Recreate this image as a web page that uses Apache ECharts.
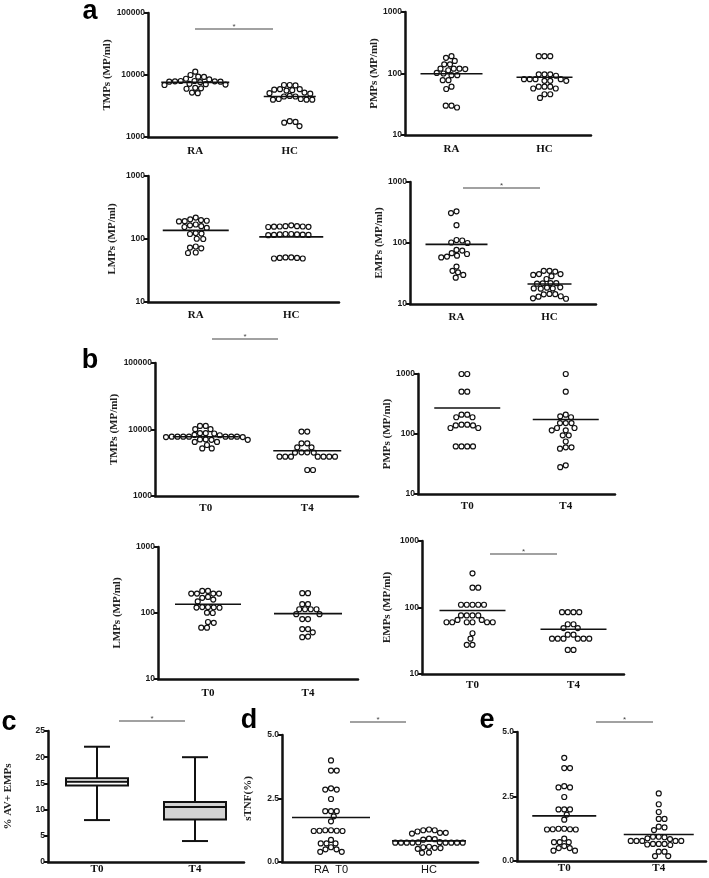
<!DOCTYPE html>
<html>
<head>
<meta charset="utf-8">
<script src="https://cdn.jsdelivr.net/npm/echarts@6/dist/echarts.min.js"></script>
<style>
  html, body { margin: 0; background: #fff; }
  #chart { width: 709px; height: 878px; }
</style>
</head>
<body>
<div id="chart"></div>
<script>
  // ---- categories ----
  var catsRA = ['RA', 'HC'];
  var catsT = ['T0', 'T4'];
  var catsD = ['RA  T0', 'HC'];

  // ---- panel a (RA vs HC), MP/ml ----
  var tmpRA = [11300, 10000, 9400, 9300, 8700, 8500, 8000, 8000, 7900, 7900, 7800, 7800, 7700, 7200, 7100, 7000, 6900, 6200, 6100, 6000, 5200, 5100];
  var tmpHC = [6900, 6900, 6800, 5900, 5900, 5800, 5700, 5600, 5200, 5100, 5000, 4600, 4500, 4500, 4100, 4100, 4000, 4000, 4000, 1800, 1750, 1700, 1500];
  var pmpRA = [191, 180, 160, 141, 141, 120, 120, 120, 118, 113, 102, 100, 94, 94, 78, 78, 61, 56, 30, 30, 28];
  var pmpHC = [191, 191, 191, 97, 97, 97, 92, 81, 81, 81, 81, 76, 76, 76, 61, 61, 61, 57, 57, 46, 46, 40];
  var lmpRA = [219, 205, 200, 195, 192, 190, 170, 165, 160, 155, 150, 124, 122, 120, 101, 100, 76, 73, 71, 61, 60];
  var lmpHC = [165, 160, 158, 157, 156, 155, 158, 160, 120, 118, 117, 116, 115, 116, 118, 120, 51, 50, 49, 49, 50, 51];
  var empRA = [330, 310, 196, 112, 110, 102, 100, 77, 75, 68, 66, 62, 60, 58, 41, 35, 33, 30, 27];
  var empHC = [35, 34, 35, 31, 30, 31, 28.6, 25.7, 22, 21.8, 21.5, 22, 18.8, 18.5, 18, 18, 17.8, 14.6, 14.5, 14.4, 13.4, 13.2, 12.4, 12.2];
  var medTmpA = [7600, 4500];
  var medPmpA = [99, 87];
  var medLmpA = [137, 108];
  var medEmpA = [95, 21.3];

  // ---- panel b (T0 vs T4), MP/ml ----
  var tmpT0 = [11300, 11300, 10100, 10100, 8800, 8800, 8700, 8300, 8200, 7800, 7800, 7800, 7800, 7800, 7800, 7800, 7700, 7700, 7100, 7100, 7000, 7000, 6500, 6500, 5850, 5200, 5200];
  var tmpT4 = [9300, 9300, 6200, 6200, 5400, 5400, 4540, 4540, 4500, 4500, 3900, 3900, 3900, 3900, 3900, 3900, 3900, 2460, 2460];
  var pmpT0 = [1000, 1000, 507, 507, 210, 210, 190, 190, 143, 143, 139, 139, 126, 126, 62, 62, 62, 62];
  var pmpT4 = [1000, 507, 210, 197, 190, 152, 152, 152, 126, 126, 115, 115, 95, 95, 75, 60, 60, 57, 30, 28];
  var lmpT0 = [216, 216, 197, 197, 197, 197, 175, 170, 160, 150, 123, 123, 122, 121, 120, 101, 100, 73, 71, 60, 60];
  var lmpT4 = [200, 200, 136, 136, 114, 114, 114, 114, 96, 96, 81, 81, 57, 57, 51, 44, 43];
  var empT0 = [327, 199, 199, 110, 110, 110, 110, 110, 76, 76, 76, 76, 65, 65, 60, 60, 60, 60, 60, 60, 41, 34, 27.5, 27.5];
  var empT4 = [85, 85, 85, 85, 56, 56, 49, 49, 39, 39, 34, 34, 34, 34, 34, 34, 23, 23];
  var medTmpB = [7800, 4800];
  var medPmpB = [272, 174];
  var medLmpB = [136, 98];
  var medEmpB = [90, 47];

  // ---- panel c: % AV+ EMPs box plots [min, q1, median, q3, max] ----
  var avT0 = [8, 14.6, 15.3, 16.0, 22];
  var avT4 = [4, 8.1, 10.5, 11.45, 20];

  // ---- panels d, e: sTNF (%) ----
  var stnfT0 = [4.0, 3.6, 3.6, 2.9, 2.85, 2.85, 2.48, 2.0, 2.0, 2.0, 1.8, 1.6, 1.25, 1.23, 1.22, 1.22, 1.23, 1.25, 0.87, 0.73, 0.73, 0.73, 0.58, 0.5, 0.5, 0.4, 0.4];
  var stnfHC = [1.28, 1.25, 1.25, 1.2, 1.15, 1.15, 1.12, 0.92, 0.9, 0.88, 0.78, 0.77, 0.76, 0.76, 0.76, 0.76, 0.76, 0.76, 0.76, 0.76, 0.6, 0.58, 0.56, 0.55, 0.52, 0.37, 0.36];
  var stnfT4 = [2.62, 2.2, 1.9, 1.63, 1.63, 1.33, 1.3, 1.2, 0.94, 0.94, 0.92, 0.88, 0.85, 0.78, 0.78, 0.78, 0.78, 0.78, 0.66, 0.66, 0.66, 0.64, 0.62, 0.36, 0.36, 0.19, 0.19];
  var medStnfD = [1.75, 0.83];
  var medStnfE = [1.75, 1.03];

  var SERIF = '"Liberation Serif", "Times New Roman", serif';
  var SANS = '"Liberation Sans", Arial, sans-serif';
  var INK = '#111';

  var panels = [
    { rect: [148, 13, 189, 124], log: true, min: 1000, max: 100000, cats: catsRA, title: 'TMPs (MP/ml)', gap: 30, lm: 9, groups: [tmpRA, tmpHC], med: medTmpA, hw: [34, 26] },
    { rect: [405, 12, 186, 123], log: true, min: 10, max: 1000, cats: catsRA, title: 'PMPs (MP/ml)', gap: 22, lm: 9, groups: [pmpRA, pmpHC], med: medPmpA, hw: [31, 28] },
    { rect: [148, 176, 191, 126], log: true, min: 10, max: 1000, cats: catsRA, title: 'LMPs (MP/ml)', gap: 30, lm: 8, groups: [lmpRA, lmpHC], med: medLmpA, hw: [33, 32] },
    { rect: [410, 182, 186, 122], log: true, min: 10, max: 1000, cats: catsRA, title: 'EMPs (MP/ml)', gap: 22, lm: 8, groups: [empRA, empHC], med: medEmpA, hw: [31, 22] },
    { rect: [155, 363, 203, 133], log: true, min: 1000, max: 100000, cats: catsT, title: 'TMPs (MP/ml)', gap: 32, lm: 7, groups: [tmpT0, tmpT4], med: medTmpB, hw: [33, 34] },
    { rect: [418, 374, 197, 120], log: true, min: 10, max: 1000, cats: catsT, title: 'PMPs (MP/ml)', gap: 23, lm: 7, groups: [pmpT0, pmpT4], med: medPmpB, hw: [33, 33] },
    { rect: [158, 547, 200, 132], log: true, min: 10, max: 1000, cats: catsT, title: 'LMPs (MP/ml)', gap: 35, lm: 9, groups: [lmpT0, lmpT4], med: medLmpB, hw: [33, 34] },
    { rect: [422, 541, 202, 133], log: true, min: 10, max: 1000, cats: catsT, title: 'EMPs (MP/ml)', gap: 29, lm: 6, groups: [empT0, empT4], med: medEmpB, hw: [33, 33] },
    { rect: [48, 731, 196, 131], min: 0, max: 25, interval: 5, cats: catsT, title: '% AV+ EMPs', gap: 34, lm: 2, boxes: [avT0, avT4] },
    { rect: [282, 735, 196, 127], min: 0, max: 5, interval: 2.5, dec: 1, cats: catsD, catFont: SANS, catWeight: 'normal', title: 'sTNF(%)', gap: 28, lm: 2, groups: [stnfT0, stnfHC], med: medStnfD, hw: [39, 37] },
    { rect: [517, 732, 189, 129], min: 0, max: 5, interval: 2.5, dec: 1, cats: catsT, title: '', gap: 28, lm: 2, groups: [stnfT0, stnfT4], med: medStnfE, hw: [32, 35] }
  ];

  var boxFill = ['#ffffff', '#d3d3d3'];

  function medianLine(params, api) {
    var p = api.coord([api.value(0), api.value(1)]);
    var hw = api.value(2);
    return { type: 'line', shape: { x1: p[0] - hw, y1: p[1], x2: p[0] + hw, y2: p[1] },
      style: { stroke: INK, lineWidth: 1.6 } };
  }

  function boxShape(params, api) {
    var c = api.value(0);
    var pMin = api.coord([c, api.value(1)]), pQ1 = api.coord([c, api.value(2)]);
    var pMed = api.coord([c, api.value(3)]), pQ3 = api.coord([c, api.value(4)]);
    var pMax = api.coord([c, api.value(5)]);
    var x = pMin[0], bw = 31, cw = 13;
    var ls = { stroke: INK, lineWidth: 2 };
    return { type: 'group', children: [
      { type: 'line', shape: { x1: x, y1: pMax[1], x2: x, y2: pQ3[1] }, style: ls },
      { type: 'line', shape: { x1: x, y1: pQ1[1], x2: x, y2: pMin[1] }, style: ls },
      { type: 'line', shape: { x1: x - cw, y1: pMax[1], x2: x + cw, y2: pMax[1] }, style: ls },
      { type: 'line', shape: { x1: x - cw, y1: pMin[1], x2: x + cw, y2: pMin[1] }, style: ls },
      { type: 'rect', shape: { x: x - bw, y: pQ3[1], width: 2 * bw, height: pQ1[1] - pQ3[1] },
        style: { fill: boxFill[c], stroke: INK, lineWidth: 2 } },
      { type: 'line', shape: { x1: x - bw, y1: pMed[1], x2: x + bw, y2: pMed[1] }, style: ls }
    ] };
  }

  var grids = [], xAxes = [], yAxes = [], series = [], dotSeries = [];
  panels.forEach(function (p, i) {
    grids.push({ left: p.rect[0], top: p.rect[1], width: p.rect[2], height: p.rect[3] });
    xAxes.push({
      gridIndex: i, type: 'category', data: p.cats,
      axisLine: { onZero: false, lineStyle: { color: INK, width: 2.5 } },
      axisTick: { show: false },
      axisLabel: { color: INK, fontFamily: p.catFont || SERIF, fontWeight: p.catWeight || 'bold', fontSize: 11, margin: p.lm }
    });
    yAxes.push({
      gridIndex: i, type: p.log ? 'log' : 'value', logBase: 10,
      min: p.min, max: p.max, interval: p.interval,
      name: p.title, nameLocation: 'middle', nameGap: p.gap, nameRotate: 90,
      nameTextStyle: { color: '#222', fontFamily: SERIF, fontWeight: 'bold', fontSize: 11 },
      axisLine: { show: true, onZero: false, lineStyle: { color: INK, width: 2.5 } },
      axisTick: { show: true, length: 4, lineStyle: { color: INK, width: 2 } },
      minorTick: { show: false },
      splitLine: { show: false },
      axisLabel: {
        color: '#1a1a1a', fontFamily: SANS, fontWeight: 'bold', fontSize: 8.5, margin: 3,
        formatter: p.dec ? function (v) { return v.toFixed(p.dec); } : function (v) { return String(Math.round(v)); }
      }
    });
    if (p.groups) {
      p.groups.forEach(function (g, j) {
        var s = {
          id: 'dots' + i + '_' + j, type: 'scatter', xAxisIndex: i, yAxisIndex: i,
          data: g.map(function (v) { return [j, v]; }),
          symbol: 'circle', symbolSize: 5, clip: false, z: 3,
          itemStyle: { color: '#fff', borderColor: INK, borderWidth: 1.2, opacity: 1 }
        };
        series.push(s);
        dotSeries.push(s);
      });
      series.push({
        type: 'custom', xAxisIndex: i, yAxisIndex: i, z: 4,
        data: p.med.map(function (m, j) { return [j, m, p.hw[j]]; }),
        renderItem: medianLine
      });
    }
    if (p.boxes) {
      series.push({
        type: 'custom', xAxisIndex: i, yAxisIndex: i, z: 3,
        encode: { x: 0, y: [1, 2, 3, 4, 5] },
        data: p.boxes.map(function (b, j) { return [j].concat(b); }),
        renderItem: boxShape
      });
    }
  });

  // panel letters and significance bars
  var graphics = [];
  [['a', 90, 12], ['b', 90, 361], ['c', 9, 723], ['d', 249, 721], ['e', 487, 721]].forEach(function (t) {
    graphics.push({ type: 'text', x: t[1], y: t[2],
      style: { text: t[0], fill: '#000', font: 'bold 27px ' + SANS, textAlign: 'center', textVerticalAlign: 'middle' } });
  });
  [[195, 273, 29], [463, 540, 188], [212, 278, 339], [490, 557, 554], [119, 185, 721], [350, 406, 722], [596, 653, 722]].forEach(function (b) {
    graphics.push({ type: 'line', shape: { x1: b[0], y1: b[2], x2: b[1], y2: b[2] }, style: { stroke: '#444', lineWidth: 1.2 } });
    graphics.push({ type: 'text', x: (b[0] + b[1]) / 2, y: b[2] - 2,
      style: { text: '*', fill: '#444', font: '8px ' + SANS, textAlign: 'center', textVerticalAlign: 'middle' } });
  });

  var chart = echarts.init(document.getElementById('chart'));
  chart.setOption({
    animation: false,
    backgroundColor: '#fff',
    grid: grids, xAxis: xAxes, yAxis: yAxes, series: series, graphic: graphics
  });

  // spread the dots sideways (beeswarm) so they do not overlap
  function swarm(ys, d) {
    var order = ys.map(function (_, i) { return i; }).sort(function (a, b) { return ys[a] - ys[b]; });
    var placed = [], out = [], flip = 1;
    order.forEach(function (i) {
      var y = ys[i], best = null;
      for (var k = 0; k < 600 && best === null; k++) {
        var cands = k === 0 ? [0] : [flip * k * 0.25, -flip * k * 0.25];
        for (var c = 0; c < cands.length; c++) {
          var x = cands[c], ok = true;
          for (var q = 0; q < placed.length; q++) {
            var dx = x - placed[q][0], dy = y - placed[q][1];
            if (dx * dx + dy * dy < d * d - 0.01) { ok = false; break; }
          }
          if (ok) { best = x; break; }
        }
      }
      flip = -flip;
      out[i] = best;
      placed.push([best, y]);
    });
    return out;
  }

  var upd = dotSeries.map(function (s) {
    var ys = s.data.map(function (d) { return chart.convertToPixel({ seriesId: s.id }, d)[1]; });
    var offs = swarm(ys, 5.7);
    return { id: s.id, data: s.data.map(function (d, k) { return { value: d, symbolOffset: [offs[k], 0] }; }) };
  });
  chart.setOption({ series: upd });
</script>
</body>
</html>
